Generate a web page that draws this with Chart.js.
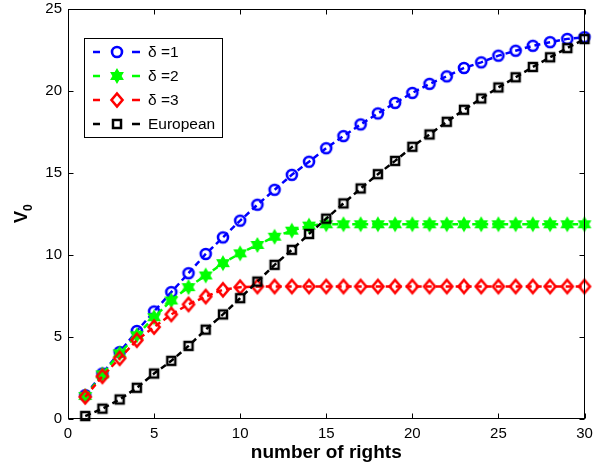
<!DOCTYPE html>
<html>
<head>
<meta charset="utf-8">
<script src="https://cdn.jsdelivr.net/npm/chart.js@4.4.1/dist/chart.umd.min.js"></script>
<style>
html,body{margin:0;padding:0;background:#ffffff;overflow:hidden;}
#wrap{position:relative;width:593px;height:468px;}
</style>
</head>
<body>
<div id="wrap"><canvas id="c" width="593" height="468"></canvas></div>
<script>
// ---- data ----
const rights = [1,2,3,4,5,6,7,8,9,10,11,12,13,14,15,16,17,18,19,20,21,22,23,24,25,26,27,28,29,30];
const delta1 = [1.45,2.77,4.08,5.36,6.55,7.73,8.88,10.05,11.06,12.08,13.05,13.96,14.87,15.67,16.49,17.23,17.94,18.61,19.25,19.86,20.41,20.87,21.38,21.72,22.13,22.43,22.73,22.95,23.15,23.25];
const delta2 = [1.40,2.72,4.00,5.10,6.20,7.22,8.03,8.74,9.49,10.09,10.60,11.10,11.47,11.78,11.86,11.86,11.86,11.86,11.86,11.86,11.86,11.86,11.86,11.86,11.86,11.86,11.86,11.86,11.86,11.86];
const delta3 = [1.35,2.60,3.70,4.80,5.60,6.37,6.98,7.46,7.87,8.03,8.07,8.07,8.07,8.07,8.07,8.07,8.07,8.07,8.07,8.07,8.07,8.07,8.07,8.07,8.07,8.07,8.07,8.07,8.07,8.07];
const european = [0.18,0.63,1.19,1.90,2.77,3.54,4.45,5.44,6.37,7.36,8.37,9.39,10.30,11.27,12.20,13.13,14.04,14.91,15.72,16.58,17.33,18.10,18.83,19.52,20.19,20.81,21.44,22.03,22.59,23.14];
const seriesNames = ['\u03b4 =1','\u03b4 =2','\u03b4 =3','European'];
const xTickValues = [0,5,10,15,20,25,30];
const yTickValues = [0,5,10,15,20,25];
const xTitle = 'number of rights';
const yTitleMain = 'V';
const yTitleSub = '0';

const FONT = '"Liberation Sans", Arial, Helvetica, sans-serif';

function makeMarker(kind, color) {
  const s = 24, c = 12;
  const cv = document.createElement('canvas');
  cv.width = s; cv.height = s;
  const g = cv.getContext('2d');
  g.strokeStyle = color; g.fillStyle = color; g.lineWidth = 2.6;
  g.beginPath();
  if (kind === 'circle') {
    g.arc(c, c, 5, 0, Math.PI * 2);
    g.stroke();
  } else if (kind === 'hexagram') {
    const R = 6.8, r = R / Math.sqrt(3);
    for (let k = 0; k < 12; k++) {
      const a = -Math.PI / 2 + k * Math.PI / 6;
      const rr = (k % 2 === 0) ? R : r;
      const px = c + rr * Math.cos(a), py = c + rr * Math.sin(a);
      if (k === 0) g.moveTo(px, py); else g.lineTo(px, py);
    }
    g.closePath();
    g.fill();
    g.lineWidth = 1.2;
    g.stroke();
  } else if (kind === 'diamond') {
    g.moveTo(c, c - 6.5); g.lineTo(c + 5.5, c); g.lineTo(c, c + 6.5); g.lineTo(c - 5.5, c);
    g.closePath();
    g.stroke();
  } else if (kind === 'square') {
    g.lineWidth = 2.5;
    g.rect(c - 4, c - 4, 8, 8);
    g.stroke();
  }
  return cv;
}

const seriesValues = [delta1, delta2, delta3, european];
const seriesColors = ['#0000ff', '#00ff00', '#ff0000', '#000000'];
const seriesMarkers = ['circle', 'hexagram', 'diamond', 'square'];
const markerImgs = seriesMarkers.map((m, i) => makeMarker(m, seriesColors[i]));

const datasets = seriesValues.map((vals, i) => ({
  label: seriesNames[i],
  data: rights.map((x, j) => ({x: x, y: vals[j]})),
  borderColor: seriesColors[i],
  backgroundColor: seriesColors[i],
  borderWidth: 2.5,
  borderDash: [6, 4],
  pointStyle: markerImgs[i],
  pointRadius: 6,
  pointHoverRadius: 6,
  tension: 0,
  fill: false,
  clip: false,
  order: 4 - i
}));

const framePlugin = {
  id: 'matlabFrame',
  afterDraw(chart) {
    const ctx = chart.ctx;
    const a = chart.chartArea;
    const xs = chart.scales.x, ys = chart.scales.y;
    ctx.save();
    ctx.strokeStyle = '#000';
    ctx.lineWidth = 1;
    const L = Math.round(a.left) + 0.5, R = Math.round(a.right) - 0.5;
    const T = Math.round(a.top) + 0.5, B = Math.round(a.bottom) - 0.5;
    ctx.strokeRect(L, T, R - L, B - T);
    // inward ticks
    ctx.beginPath();
    xTickValues.forEach(v => {
      const px = Math.round(xs.getPixelForValue(v)) + 0.5;
      ctx.moveTo(px, B); ctx.lineTo(px, B - 5);
      ctx.moveTo(px, T); ctx.lineTo(px, T + 5);
    });
    yTickValues.forEach(v => {
      const py = Math.round(ys.getPixelForValue(v)) + 0.5;
      ctx.moveTo(L, py); ctx.lineTo(L + 5, py);
      ctx.moveTo(R, py); ctx.lineTo(R - 5, py);
    });
    ctx.stroke();

    // y title V_0
    ctx.fillStyle = '#000';
    ctx.translate(27, 223);
    ctx.rotate(-Math.PI / 2);
    ctx.textBaseline = 'alphabetic';
    ctx.textAlign = 'left';
    ctx.font = 'bold 18px ' + FONT;
    const wV = ctx.measureText(yTitleMain).width;
    ctx.fillText(yTitleMain, 0, 0);
    ctx.font = 'bold 12px ' + FONT;
    ctx.fillText(yTitleSub, wV, 5);
    ctx.restore();

    // legend
    ctx.save();
    const bx = 84.5, by = 38.5, bw = 138, bh = 99;
    ctx.fillStyle = '#fff';
    ctx.fillRect(bx, by, bw, bh);
    ctx.strokeStyle = '#000';
    ctx.lineWidth = 1;
    ctx.strokeRect(bx, by, bw, bh);
    const rowY = [52, 76, 100, 124];
    ctx.font = '15.5px ' + FONT;
    ctx.textBaseline = 'middle';
    ctx.textAlign = 'left';
    seriesNames.forEach((name, i) => {
      const y = rowY[i];
      ctx.strokeStyle = seriesColors[i];
      ctx.lineWidth = 2.5;
      ctx.beginPath();
      ctx.moveTo(93, y); ctx.lineTo(100, y);
      ctx.moveTo(132, y); ctx.lineTo(140, y);
      ctx.stroke();
      const img = markerImgs[i];
      ctx.drawImage(img, 117 - img.width / 2, y - img.height / 2);
      ctx.fillStyle = '#000';
      ctx.fillText(name, 148, y + 1);
    });
    ctx.restore();
  }
};

new Chart(document.getElementById('c'), {
  type: 'line',
  data: { datasets: datasets },
  options: {
    responsive: false,
    animation: false,
    events: [],
    layout: { padding: { left: 0, right: 0, top: 0, bottom: 4 } },
    plugins: { legend: { display: false }, tooltip: { enabled: false } },
    scales: {
      x: {
        type: 'linear',
        min: 0, max: 30,
        afterBuildTicks(scale) { scale.ticks = xTickValues.map(v => ({value: v})); },
        afterFit(scale) { scale.height = 45; scale.paddingRight = 4; scale.paddingLeft = 0; },
        grid: { display: false, drawTicks: false },
        border: { display: false },
        ticks: { color: '#000', font: { family: FONT, size: 15 }, padding: 6, maxRotation: 0, autoSkip: false },
        title: { display: true, text: xTitle, color: '#000', font: { family: FONT, size: 19, weight: 'bold' }, padding: 0 }
      },
      y: {
        type: 'linear',
        min: 0, max: 25,
        afterBuildTicks(scale) { scale.ticks = yTickValues.map(v => ({value: v})); },
        afterFit(scale) { scale.width = 68; scale.paddingTop = 7; scale.paddingBottom = 0; },
        grid: { display: false, drawTicks: false },
        border: { display: false },
        ticks: { color: '#000', font: { family: FONT, size: 15 }, padding: 6, autoSkip: false }
      }
    }
  },
  plugins: [framePlugin]
});
</script>
</body>
</html>
